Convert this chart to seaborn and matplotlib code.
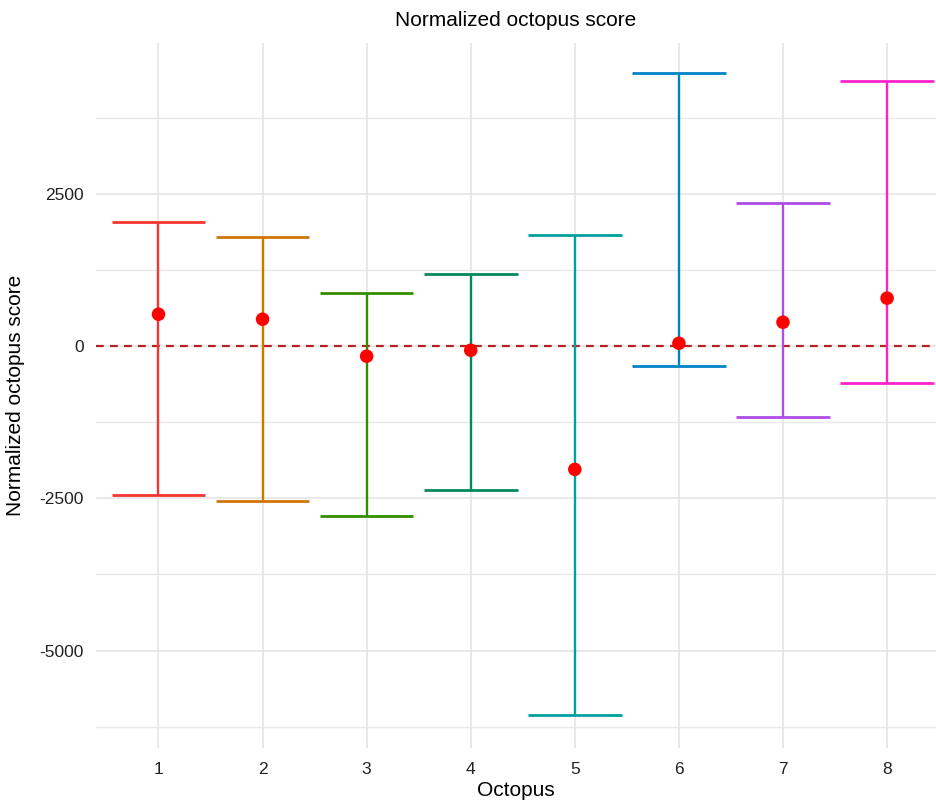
import numpy as np
import pandas as pd
import seaborn as sns
import matplotlib.pyplot as plt
from matplotlib.ticker import MultipleLocator

octopus = [1, 2, 3, 4, 5, 6, 7, 8]
score = [526, 444, -164, -66, -2023, 49, 395, 790]
lower = [-2450, -2550, -2797, -2369, -6054, -329, -1168, -609]
upper = [2040, 1793, 872, 1184, 1826, 4491, 2352, 4359]
colors = ['#F5362E', '#D27600', '#338E00', '#00895A', '#00A0A0', '#0082C8', '#B04CE6', '#FF22CC']

df = pd.DataFrame({'Octopus': octopus, 'Score': score, 'Lower': lower, 'Upper': upper})

sns.set_theme(style = "whitegrid")
plt.rcParams['font.family'] = ['Liberation Sans', 'DejaVu Sans']
plt.rcParams['axes.unicode_minus'] = False

fig = plt.figure(figsize = (9.36, 8.06), dpi = 100)
ax = fig.add_axes([0.1026, 0.072, 0.8974, 0.8745])

# error bars, one colour per octopus
for i, row in df.iterrows():
	c = colors[i]
	ax.vlines(row.Octopus, row.Lower, row.Upper, color = c, lw = 1.7, zorder = 3)
	ax.hlines([row.Lower, row.Upper], row.Octopus - 0.45, row.Octopus + 0.45, color = c, lw = 2.0, zorder = 3)

ax.axhline(0, color = '#B22222', ls = (0, (3.5, 2.8)), lw = 1.6, zorder = 2)
sns.scatterplot(data = df, x = 'Octopus', y = 'Score', color = 'red', s = 95, edgecolor = 'none', zorder = 4, ax = ax)

ax.set_xlim(0.4, 8.47)
ax.set_ylim(-6600, 4980)
ax.set_xticks(octopus)
ax.set_yticks([-5000, -2500, 0, 2500])
ax.yaxis.set_minor_locator(MultipleLocator(1250))
ax.grid(which = 'major', color = '#E3E3E3', lw = 1.1)
ax.grid(which = 'minor', axis = 'y', color = '#E8E8E8', lw = 1.0)
ax.grid(which = 'minor', axis = 'x', visible = False)
ax.set_facecolor('white')
for s in ax.spines.values():
	s.set_visible(False)
ax.tick_params(axis = 'both', which = 'both', length = 0, labelsize = 12.5, colors = '#222222')
ax.tick_params(axis = 'y', pad = 9)
ax.tick_params(axis = 'x', pad = 10)

ax.set_xlabel("Octopus", fontsize = 15, labelpad = 3, color = 'black')
ax.set_ylabel("Normalized octopus score", fontsize = 15, labelpad = 10, color = 'black')
ax.set_title("Normalized octopus score", fontsize = 15, pad = 12, color = 'black')

fig.savefig('out.png', dpi = 100)
